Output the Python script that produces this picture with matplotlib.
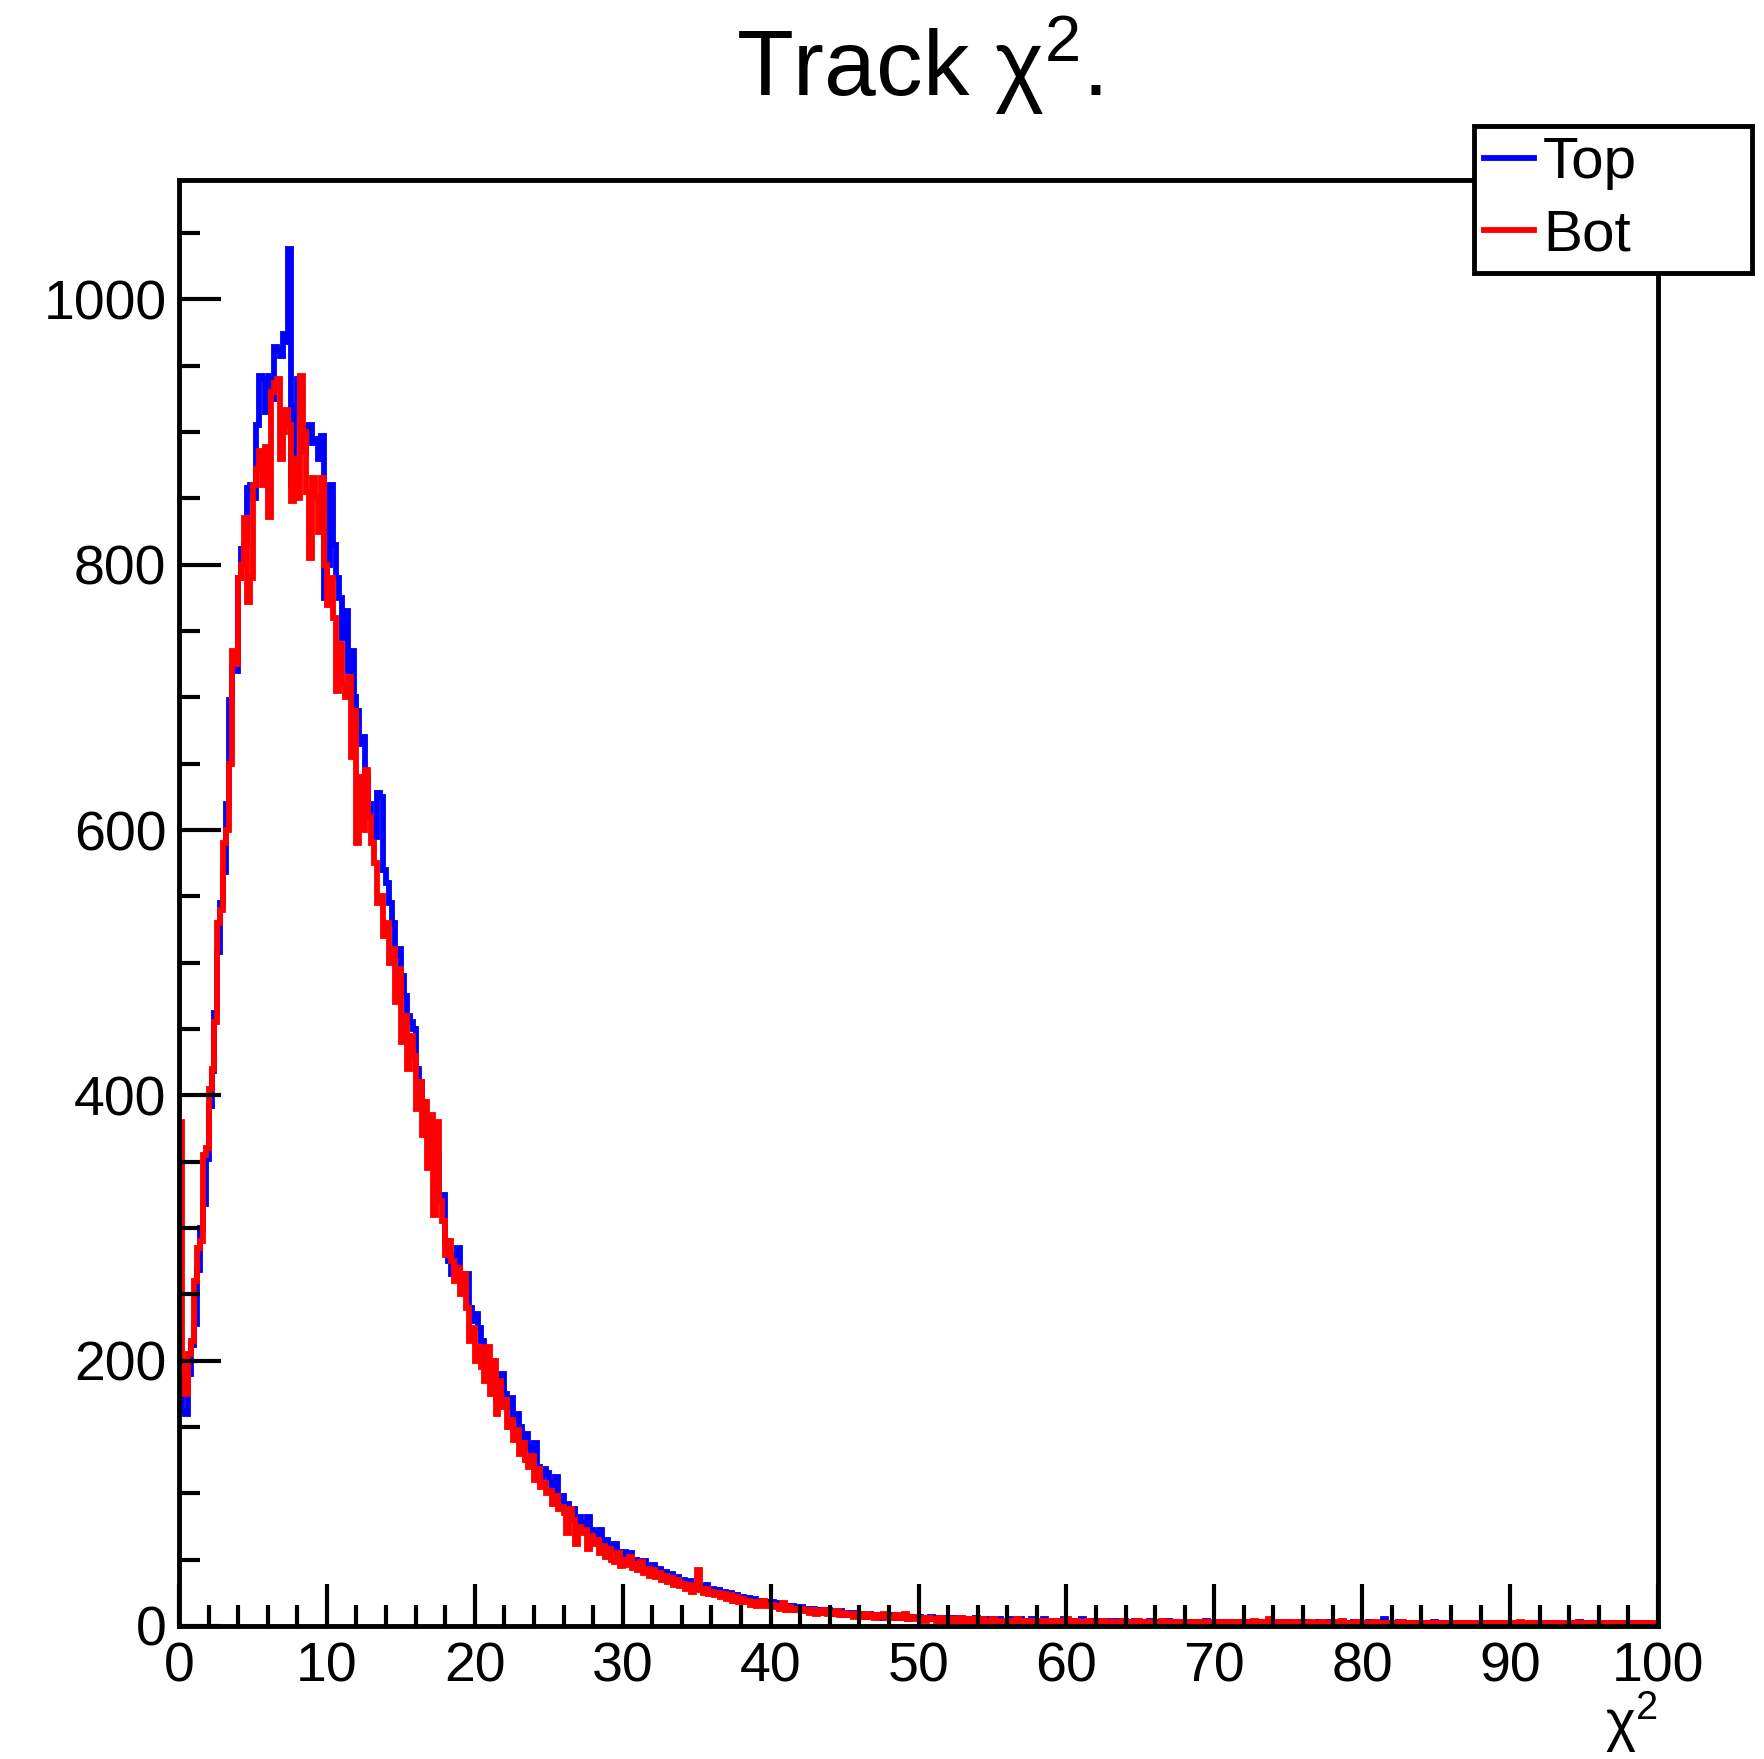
import matplotlib
matplotlib.use("Agg")
import matplotlib.pyplot as plt
import numpy as np

plt.rcParams['font.family'] = ['Liberation Sans', 'DejaVu Sans']
plt.rcParams['mathtext.fontset'] = 'custom'
plt.rcParams['mathtext.rm'] = 'Liberation Sans'
plt.rcParams['mathtext.it'] = 'Liberation Sans'

# histogram binning: 500 bins from 0 to 100
x_min, x_max, bin_width = 0.0, 100.0, 0.2

# bin contents, one row = 10 bins (2 units of chi2)
top = [
    200, 162, 160, 190, 212, 228, 268, 300, 318, 352,
    392, 418, 462, 508, 545, 568, 620, 698, 722, 720,
    790, 812, 815, 858, 860, 850, 905, 942, 940, 915,
    942, 925, 964, 962, 957, 974, 968, 1038, 860, 920,
    940, 905, 885, 903, 905, 892, 895, 880, 897, 775,
    800, 860, 815, 790, 775, 745, 765, 720, 735, 700,
    690, 665, 670, 640, 620, 610, 595, 628, 625, 570,
    560, 545, 530, 505, 510, 490, 475, 460, 455, 450,
    420, 410, 395, 385, 375, 350, 365, 355, 320, 325,
    290, 275, 265, 280, 285, 265, 255, 265, 240, 230,
    235, 225, 215, 195, 200, 200, 185, 170, 180, 190,
    175, 165, 172, 155, 160, 150, 140, 145, 135, 128,
    138, 120, 112, 118, 115, 108, 100, 112, 95, 98,
    90, 92, 85, 88, 80, 82, 78, 75, 82, 72,
    70, 68, 72, 62, 65, 60, 58, 62, 55, 54,
    56, 52, 55, 48, 50, 47, 45, 49, 42, 44,
    46, 40, 43, 38, 41, 36, 39, 34, 37, 33,
    35, 31, 34, 29, 32, 28, 30, 27, 31, 26,
    28, 25, 27, 24, 26, 22, 25, 21, 23, 20,
    22, 19, 21, 18, 20, 17, 19, 16, 18, 17,
    18, 15, 17, 14, 16, 15, 13, 15, 12, 14,
    14, 12, 13, 11, 13, 10, 12, 11, 10, 12,
    11, 9, 10, 11, 8, 10, 9, 8, 10, 9,
    9, 8, 7, 9, 8, 7, 8, 6, 8, 7,
    7, 8, 6, 7, 6, 8, 5, 7, 6, 6,
    7, 5, 6, 5, 7, 5, 6, 4, 6, 5,
    5, 6, 4, 5, 6, 4, 5, 5, 4, 6,
    5, 4, 5, 4, 3, 5, 4, 5, 4, 4,
    4, 5, 3, 4, 5, 3, 4, 4, 5, 3,
    4, 3, 5, 3, 4, 4, 3, 4, 3, 5,
    3, 4, 3, 4, 3, 5, 3, 3, 4, 3,
    4, 3, 3, 4, 2, 3, 4, 3, 3, 4,
    3, 3, 2, 4, 3, 3, 2, 3, 4, 3,
    2, 3, 3, 2, 4, 3, 2, 3, 3, 2,
    3, 2, 3, 3, 2, 3, 2, 4, 2, 3,
    2, 3, 2, 3, 2, 2, 3, 2, 3, 2,
    3, 2, 2, 3, 2, 3, 2, 2, 3, 2,
    2, 2, 3, 2, 2, 3, 2, 2, 2, 3,
    2, 3, 2, 2, 2, 3, 2, 2, 3, 2,
    2, 2, 2, 3, 2, 2, 2, 3, 2, 2,
    2, 2, 3, 2, 2, 2, 2, 5, 2, 2,
    2, 2, 3, 2, 2, 2, 2, 2, 2, 2,
    2, 2, 2, 2, 3, 2, 2, 2, 2, 1,
    2, 2, 1, 2, 2, 2, 2, 1, 2, 2,
    2, 1, 2, 2, 1, 2, 2, 1, 2, 2,
    1, 2, 2, 1, 2, 2, 1, 2, 1, 2,
    2, 1, 2, 1, 2, 1, 2, 2, 1, 2,
    1, 2, 1, 3, 1, 2, 1, 2, 2, 1,
    2, 1, 2, 1, 1, 2, 1, 2, 1, 2,
    1, 2, 1, 1, 2, 1, 2, 1, 1, 1,
]

bot = [
    380, 190, 175, 205, 215, 260, 285, 290, 355, 360,
    405, 420, 455, 530, 540, 590, 600, 650, 735, 725,
    790, 800, 835, 772, 790, 860, 872, 886, 860, 889,
    836, 930, 937, 940, 880, 900, 917, 905, 848, 880,
    850, 942, 900, 855, 805, 865, 850, 825, 865, 800,
    770, 790, 760, 705, 740, 710, 700, 715, 655, 690,
    590, 640, 600, 645, 610, 590, 575, 545, 550, 520,
    530, 500, 510, 470, 495, 440, 460, 420, 445, 430,
    390, 410, 370, 395, 345, 385, 310, 380, 320, 305,
    280, 290, 275, 260, 270, 250, 265, 240, 215, 225,
    200, 210, 195, 185, 210, 175, 200, 160, 185, 165,
    170, 150, 155, 140, 148, 130, 138, 125, 120, 128,
    110, 118, 105, 108, 100, 102, 92, 98, 88, 90,
    85, 70, 88, 80, 62, 75, 70, 72, 58, 68,
    62, 65, 55, 60, 52, 58, 50, 48, 55, 45,
    50, 46, 52, 44, 47, 42, 48, 40, 43, 38,
    42, 37, 40, 35, 38, 33, 36, 31, 35, 30,
    32, 28, 31, 26, 29, 42, 27, 25, 28, 24,
    26, 23, 25, 22, 24, 20, 23, 19, 22, 18,
    20, 18, 19, 16, 18, 15, 17, 19, 15, 16,
    16, 14, 15, 13, 17, 12, 14, 13, 12, 13,
    13, 11, 12, 10, 12, 9, 11, 10, 12, 9,
    10, 9, 11, 8, 10, 9, 8, 9, 7, 9,
    8, 7, 9, 7, 8, 6, 8, 7, 9, 6,
    7, 6, 8, 6, 7, 9, 5, 6, 7, 5,
    5, 6, 4, 6, 5, 5, 4, 6, 5, 4,
    5, 4, 5, 4, 6, 4, 5, 3, 5, 4,
    4, 5, 3, 4, 4, 5, 3, 4, 4, 3,
    4, 3, 4, 5, 3, 4, 3, 4, 3, 4,
    3, 4, 3, 4, 3, 3, 4, 3, 4, 3,
    5, 3, 3, 4, 3, 3, 2, 4, 3, 3,
    3, 2, 4, 3, 3, 2, 3, 3, 2, 4,
    3, 3, 2, 3, 4, 2, 3, 3, 2, 3,
    3, 2, 4, 3, 2, 3, 3, 2, 3, 2,
    2, 3, 2, 3, 3, 2, 3, 2, 3, 2,
    2, 3, 2, 2, 3, 2, 2, 3, 2, 2,
    3, 2, 2, 4, 2, 2, 3, 2, 5, 2,
    2, 3, 2, 2, 3, 2, 2, 3, 2, 2,
    2, 2, 3, 2, 2, 2, 3, 2, 2, 2,
    2, 3, 2, 4, 2, 2, 2, 2, 3, 2,
    2, 2, 2, 2, 3, 2, 2, 2, 2, 2,
    2, 2, 2, 3, 2, 2, 2, 1, 2, 2,
    2, 2, 1, 2, 2, 2, 2, 2, 1, 2,
    2, 1, 2, 2, 2, 1, 2, 2, 1, 2,
    2, 1, 2, 1, 2, 2, 1, 2, 2, 1,
    2, 2, 1, 3, 2, 1, 2, 1, 2, 1,
    2, 1, 2, 1, 2, 1, 2, 1, 2, 1,
    1, 2, 1, 2, 1, 2, 1, 1, 2, 1,
    2, 1, 1, 2, 1, 1, 2, 1, 1, 2,
    1, 1, 2, 1, 1, 2, 1, 1, 2, 1,
]

edges = x_min + bin_width * np.arange(len(top) + 1)

W, H = 1764, 1759
fig = plt.figure(figsize=(W / 100, H / 100), dpi=100)
ax = fig.add_axes([179 / W, 1 - 1626 / H, (1658 - 179) / W, (1626 - 180) / H])

lw = 4.2
h_top = ax.stairs(top, edges, baseline=None, color='#0000ff', lw=lw, label='Top')
h_bot = ax.stairs(bot, edges, baseline=None, color='#ff0000', lw=lw, label='Bot')

ax.set_xlim(x_min, x_max)
ax.set_ylim(0, 1090)

ax.set_xticks(np.arange(0, 101, 10))
ax.set_xticks(np.arange(0, 101, 2), minor=True)
ax.set_yticks(np.arange(0, 1001, 200))
ax.set_yticks(np.arange(0, 1051, 50), minor=True)
ax.tick_params(which='both', direction='in', top=False, right=False, width=3.0, labelsize=40)
ax.tick_params(which='major', length=30)
ax.tick_params(which='minor', length=15)
ax.tick_params(axis='x', pad=11)
ax.tick_params(axis='y', pad=9)
for s in ax.spines.values():
    s.set_linewidth(3.5)

ax.set_xlabel(r'$\mathrm{\chi}^{2}$', fontsize=41, ha='right', va='baseline')
ax.xaxis.set_label_coords(1.0, -(1741 - 1626) / (1626 - 180))

fig.text(919 / W, 1 - 96 / H, r'Track $\mathrm{\chi}^{2}$.', fontsize=67, ha='center', va='baseline')

leg = fig.legend(handles=[h_top, h_bot], labels=['Top', 'Bot'], loc='upper left',
                 bbox_to_anchor=(1474 / W, 1 - 270 / H, (1752 - 1474) / W, (270 - 126) / H),
                 mode='expand', fontsize=42, handlelength=0.85, handletextpad=0.16,
                 borderpad=0.17, labelspacing=0.32, borderaxespad=0.0, fancybox=False,
                 framealpha=1.0, edgecolor='black')
leg.get_frame().set_linewidth(3.5)
for line in leg.get_lines():
    line.set_linewidth(lw)

fig.savefig('out.png', dpi=100)
